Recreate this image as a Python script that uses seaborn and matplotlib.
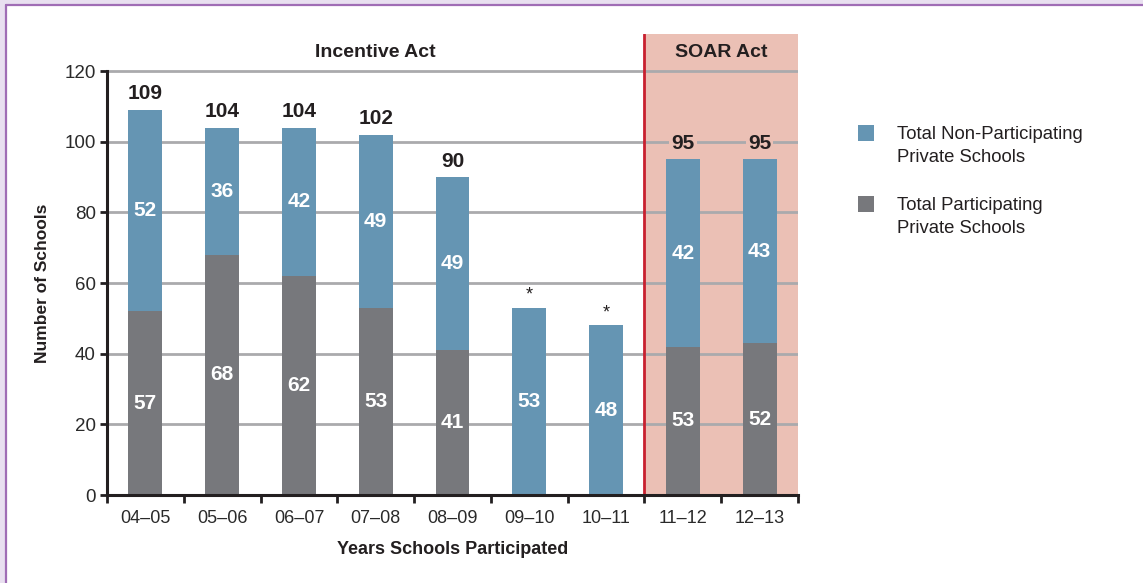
import seaborn as sns
import matplotlib.pyplot as plt
import matplotlib.patches as mpatches
import matplotlib.lines as mlines
import numpy as np

# data
years = ["04–05", "05–06", "06–07", "07–08", "08–09", "09–10", "10–11", "11–12", "12–13"]
totals = [109, 104, 104, 102, 90, 53, 48, 95, 95]
participating = [52, 68, 62, 53, 41, 0, 0, 42, 43]
total_labels = ["109", "104", "104", "102", "90", "*", "*", "95", "95"]
nonpart_labels = ["52", "36", "42", "49", "49", "53", "48", "42", "43"]
part_labels = ["57", "68", "62", "53", "41", "", "", "53", "52"]

blue = "#6595b3"
gray = "#77787c"
pink = "#ebc0b5"
red = "#c8202f"
grid_gray = "#aaaaad"
ink = "#231f20"

sns.set_style("ticks")
plt.rcParams["font.family"] = ["Liberation Sans", "DejaVu Sans"]
bold_font = ["Liberation Sans Narrow", "Liberation Sans", "DejaVu Sans"]

fig = plt.figure(figsize=(11.43, 5.83), dpi=100)
fig.patch.set_facecolor("#e9e0f0")
W, H = 1143, 583
fig.patches.append(mpatches.Rectangle((6 / W, 0), 1, 1 - 5 / H, transform=fig.transFigure,
                                      facecolor="white", edgecolor="none", zorder=-10))
fig.lines.append(mlines.Line2D([5.5 / W, 1.01], [1 - 4.5 / H] * 2, transform=fig.transFigure,
                               color="#a06db5", lw=1.6))
fig.lines.append(mlines.Line2D([5.5 / W] * 2, [-0.01, 1 - 4.5 / H], transform=fig.transFigure,
                               color="#a06db5", lw=1.6))

ax = fig.add_axes([107 / W, 88 / H, 691 / W, 461 / H])
ax.set_facecolor("none")

# SOAR Act shading and divider
ax.axvspan(6.5, 8.5, color=pink, lw=0, zorder=0.2)
ax.axvline(6.5, color=red, lw=2, zorder=3)

sns.barplot(x=years, y=totals, color=blue, width=0.44, saturation=1, ax=ax,
            linewidth=0, edgecolor="none", zorder=2)
sns.barplot(x=years, y=participating, color=gray, width=0.44, saturation=1, ax=ax,
            linewidth=0, edgecolor="none", zorder=2.1)

ax.set_xlim(-0.5, 8.5)
ax.set_ylim(0, 130.5)
ax.set_yticks(np.arange(0, 121, 20))
ax.set_axisbelow(True)
ax.yaxis.grid(True, color=grid_gray, lw=2)
ax.grid(axis="x", visible=False)

for s in ["top", "right"]:
    ax.spines[s].set_visible(False)
for s in ["left", "bottom"]:
    ax.spines[s].set_linewidth(2.2)
    ax.spines[s].set_color(ink)
    ax.spines[s].set_zorder(4)
ax.spines["left"].set_bounds(0, 120)

ax.tick_params(axis="y", left=True, length=5, width=2, color=ink, pad=3,
               labelsize=13.5, labelcolor="#2a2a2a")
ax.tick_params(axis="x", which="major", length=0, pad=11, labelsize=13, labelcolor="#2a2a2a")
ax.set_xticks(np.arange(-0.5, 9, 1), minor=True)
ax.tick_params(axis="x", which="minor", bottom=True, length=6, width=2, color=ink, direction="out")

ax.set_ylabel("Number of Schools", fontsize=12.5, fontweight="bold", family=bold_font, color=ink)
ax.set_xlabel("Years Schools Participated", fontsize=13, fontweight="bold", family=bold_font, color=ink)
ax.yaxis.set_label_coords(-0.082, 0.5 * 120 / 130.5)
ax.xaxis.set_label_coords(0.5, -0.100)

# value labels
for i, (tot, part) in enumerate(zip(totals, participating)):
    bg = pink if i >= 7 else "white"
    if total_labels[i] == "*":
        ax.annotate("*", (i, tot), xytext=(0, 3), textcoords="offset points",
                    ha="center", va="bottom", fontsize=13, color=ink, zorder=5)
    else:
        ax.annotate(total_labels[i], (i, tot), xytext=(0, 11.5), textcoords="offset points",
                    ha="center", va="center", fontsize=15, fontweight="bold", family=bold_font,
                    color=ink, zorder=5,
                    bbox=dict(facecolor=bg, edgecolor="none", pad=1.5))
    ax.text(i, (part + tot) / 2, nonpart_labels[i], ha="center", va="center",
            fontsize=15, fontweight="bold", family=bold_font, color="white", zorder=5)
    if part_labels[i]:
        ax.text(i, part / 2, part_labels[i], ha="center", va="center",
                fontsize=15, fontweight="bold", family=bold_font, color="white", zorder=5)

ax.text(3.0, 125.4, "Incentive Act", ha="center", va="center", fontsize=14,
        fontweight="bold", family=bold_font, color=ink)
ax.text(7.5, 125.4, "SOAR Act", ha="center", va="center", fontsize=14,
        fontweight="bold", family=bold_font, color=ink)

# legend drawn by hand so the swatch lines up with the first text line
legend_items = [("Total Non-Participating\nPrivate Schools", blue, 125),
                ("Total Participating\nPrivate Schools", gray, 196)]
for label, col, top in legend_items:
    fig.patches.append(mpatches.Rectangle((858 / W, 1 - (top + 16) / H), 16 / W, 16 / H,
                                          transform=fig.transFigure, facecolor=col,
                                          edgecolor="none"))
    fig.text(897 / W, 1 - (top + 1) / H, label, ha="left", va="top", fontsize=13.3,
             color=ink, linespacing=1.45)

fig.savefig("out.png", dpi=100, facecolor=fig.get_facecolor())
plt.close()
